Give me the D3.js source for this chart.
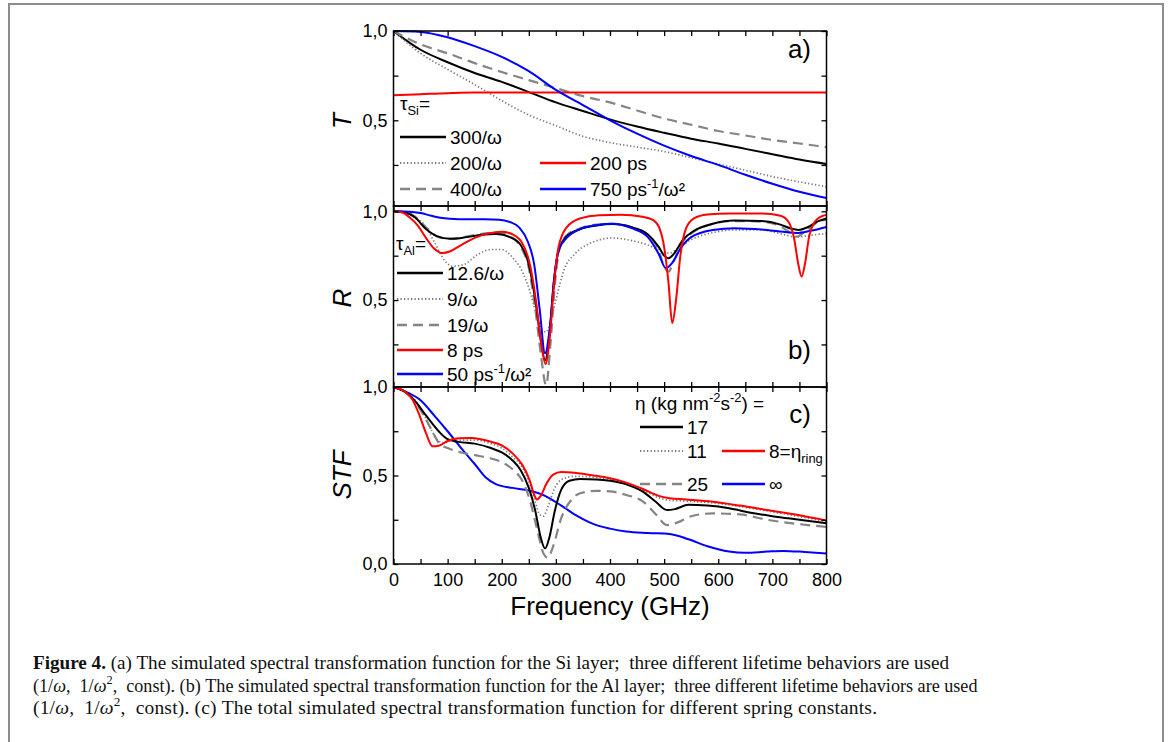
<!DOCTYPE html>
<html>
<head>
<meta charset="utf-8">
<script src="https://cdn.jsdelivr.net/npm/d3@7"></script>
<style>
  body { margin: 0; background: #fff; }
  svg { display: block; }
  text { white-space: pre; }
</style>
</head>
<body>
<svg id="fig" width="1171" height="742"></svg>
<script>
// ---------- data ----------
// shared frequency grid for panel (a), GHz
const tFreq = [0, 50, 100, 150, 200, 250, 300, 350, 400, 450, 500, 550, 600, 650, 700, 750, 800];

// (a) Si transmission T for different lifetime laws
const tSi300 = [1.0, 0.895, 0.825, 0.765, 0.715, 0.658, 0.6, 0.552, 0.505, 0.465, 0.43, 0.397, 0.37, 0.34, 0.31, 0.28, 0.255];
const tSi200 = [1.0, 0.875, 0.785, 0.70, 0.61, 0.53, 0.47, 0.41, 0.375, 0.35, 0.325, 0.29, 0.255, 0.22, 0.185, 0.155, 0.128];
const tSi400 = [1.0, 0.925, 0.875, 0.82, 0.77, 0.725, 0.68, 0.635, 0.60, 0.555, 0.51, 0.475, 0.44, 0.415, 0.39, 0.37, 0.35];
const tSiConst = [0.64, 0.646, 0.652, 0.655, 0.656, 0.656, 0.656, 0.656, 0.656, 0.656, 0.656, 0.656, 0.656, 0.656, 0.656, 0.656, 0.656];
const tSiSq = [1.0, 0.995, 0.965, 0.915, 0.855, 0.775, 0.67, 0.585, 0.50, 0.425, 0.358, 0.30, 0.25, 0.195, 0.145, 0.10, 0.065];

// (b) Al reflection R, [frequency GHz, R]
const rAl126 = [[0,1.0],[20,0.995],[40,0.965],[60,0.9],[80,0.86],[105,0.845],[130,0.852],[160,0.866],[190,0.872],[215,0.855],[235,0.81],[250,0.7],[262,0.5],[272,0.28],[280,0.16],[288,0.3],[296,0.6],[305,0.78],[320,0.86],[345,0.9],[375,0.92],[405,0.928],[440,0.91],[470,0.87],[490,0.8],[500,0.75],[508,0.735],[518,0.76],[535,0.84],[555,0.89],[590,0.93],[630,0.948],[680,0.945],[715,0.925],[735,0.902],[748,0.895],[765,0.91],[785,0.945],[800,0.96]];
const rAl9 = [[0,1.0],[20,0.99],[40,0.965],[55,0.93],[75,0.83],[95,0.72],[110,0.69],[130,0.7],[155,0.755],[180,0.785],[200,0.785],[220,0.74],[238,0.66],[252,0.55],[264,0.42],[275,0.33],[282,0.32],[290,0.38],[300,0.5],[315,0.67],[335,0.76],[360,0.815],[405,0.85],[440,0.835],[470,0.81],[495,0.775],[510,0.765],[525,0.79],[550,0.84],[590,0.88],[630,0.895],[680,0.895],[720,0.87],[745,0.855],[770,0.865],[800,0.875]];
const rAl19 = [[0,1.0],[20,0.997],[40,0.97],[60,0.91],[80,0.86],[100,0.845],[130,0.855],[160,0.872],[190,0.88],[215,0.86],[235,0.8],[250,0.68],[262,0.45],[272,0.2],[282,0.02],[290,0.25],[298,0.58],[306,0.78],[320,0.865],[345,0.905],[375,0.925],[405,0.93],[440,0.91],[470,0.865],[490,0.78],[500,0.69],[508,0.66],[518,0.72],[535,0.83],[555,0.885],[590,0.93],[630,0.945],[680,0.942],[715,0.915],[735,0.875],[745,0.857],[760,0.885],[785,0.94],[800,0.955]];
const rAlConst = [[0,1.0],[15,0.995],[30,0.965],[45,0.92],[60,0.85],[75,0.79],[90,0.765],[105,0.775],[125,0.81],[150,0.85],[175,0.875],[200,0.885],[220,0.87],[238,0.82],[252,0.7],[263,0.5],[273,0.25],[281,0.14],[289,0.3],[297,0.6],[305,0.8],[320,0.91],[345,0.96],[380,0.978],[420,0.98],[460,0.97],[480,0.95],[492,0.9],[500,0.8],[508,0.6],[515,0.37],[522,0.5],[530,0.75],[540,0.9],[555,0.96],[580,0.982],[620,0.988],[680,0.988],[715,0.975],[730,0.94],[740,0.85],[748,0.7],[754,0.632],[760,0.7],[768,0.86],[778,0.94],[790,0.97],[800,0.98]];
const rAlSq = [[0,1.0],[30,0.998],[50,0.99],[70,0.975],[90,0.962],[120,0.956],[160,0.955],[195,0.953],[215,0.94],[232,0.91],[248,0.83],[260,0.7],[270,0.45],[280,0.2],[289,0.35],[297,0.62],[305,0.78],[320,0.85],[345,0.9],[375,0.922],[405,0.93],[440,0.905],[470,0.855],[490,0.76],[503,0.68],[515,0.71],[530,0.79],[550,0.855],[590,0.895],[630,0.905],[690,0.895],[720,0.885],[745,0.878],[770,0.89],[800,0.912]];

// (c) total STF for spring constants eta, [frequency GHz, STF]
const stf17 = [[0,1.0],[20,0.975],[40,0.92],[55,0.86],[70,0.8],[85,0.745],[100,0.705],[120,0.69],[150,0.68],[180,0.655],[200,0.63],[220,0.585],[235,0.53],[250,0.43],[262,0.3],[272,0.15],[280,0.088],[288,0.15],[298,0.3],[310,0.42],[325,0.47],[345,0.48],[375,0.478],[400,0.47],[430,0.45],[460,0.41],[485,0.35],[505,0.305],[520,0.31],[545,0.335],[580,0.33],[620,0.315],[660,0.29],[700,0.27],[750,0.25],[800,0.23]];
const stf11 = [[0,1.0],[20,0.975],[40,0.925],[55,0.85],[68,0.77],[80,0.705],[92,0.685],[105,0.695],[125,0.7],[150,0.7],[180,0.68],[200,0.655],[220,0.605],[238,0.545],[252,0.45],[262,0.35],[270,0.28],[277,0.27],[286,0.33],[298,0.43],[312,0.48],[335,0.495],[370,0.49],[400,0.478],[430,0.455],[460,0.42],[490,0.375],[510,0.36],[540,0.355],[590,0.345],[640,0.325],[690,0.3],[750,0.268],[800,0.24]];
const stf8 = [[0,1.0],[20,0.975],[35,0.93],[48,0.84],[60,0.74],[72,0.665],[85,0.67],[100,0.695],[120,0.71],[145,0.712],[175,0.695],[200,0.67],[220,0.625],[238,0.56],[252,0.47],[260,0.39],[265,0.365],[272,0.385],[282,0.45],[295,0.505],[310,0.52],[340,0.513],[370,0.5],[400,0.484],[430,0.46],[460,0.425],[490,0.385],[510,0.372],[540,0.365],[590,0.352],[640,0.33],[690,0.305],[750,0.275],[800,0.245]];
const stf25 = [[0,1.0],[20,0.975],[40,0.915],[55,0.845],[70,0.76],[85,0.68],[100,0.655],[125,0.63],[150,0.615],[175,0.6],[200,0.575],[220,0.535],[238,0.47],[252,0.36],[265,0.2],[277,0.06],[285,0.035],[295,0.1],[310,0.26],[328,0.36],[345,0.4],[375,0.413],[400,0.41],[430,0.39],[460,0.355],[485,0.28],[505,0.22],[525,0.235],[550,0.27],[590,0.286],[640,0.28],[690,0.25],[750,0.225],[800,0.21]];
const stfInf = [[0,1.0],[25,0.97],[50,0.925],[75,0.84],[100,0.75],[125,0.655],[150,0.565],[170,0.49],[190,0.45],[220,0.43],[250,0.415],[280,0.385],[310,0.33],[340,0.27],[370,0.225],[400,0.2],[430,0.183],[470,0.175],[510,0.17],[545,0.14],[580,0.1],[620,0.07],[650,0.063],[690,0.07],[720,0.074],[760,0.068],[800,0.06]];

// ticks and labels
const xTicks = [0, 50, 100, 150, 200, 250, 300, 350, 400, 450, 500, 550, 600, 650, 700, 750, 800];
const xTickLabels = ["0", "", "100", "", "200", "", "300", "", "400", "", "500", "", "600", "", "700", "", "800"];
const yTicks = [0, 0.25, 0.5, 0.75, 1.0];
const yTickLabelsAB = ["", "", "0,5", "", "1,0"];
const yTickLabelsC = ["0,0", "", "0,5", "", "1,0"];

// legend texts
const legendTitleA = "τ_{Si}=";
const legendTitleB = "τ_{Al}=";
const legendTitleC = "η (kg nm^{-2}s^{-2}) =";
const captionLines = [
  "**Figure 4.** (a) The simulated spectral transformation function for the Si layer;  three different lifetime behaviors are used",
  "(1/*ω*,  1/*ω*^{2},  const). (b) The simulated spectral transformation function for the Al layer;  three different lifetime behaviors are used",
  "(1/*ω*,  1/*ω*^{2},  const). (c) The total simulated spectral transformation function for different spring constants."
];

// ---------- drawing ----------
const svg = d3.select("#fig");
const SANS = "'Liberation Sans', Arial, Helvetica, sans-serif";
const SERIF = "'Liberation Serif', 'Times New Roman', serif";

const styles = {
  solid:  { stroke: "#000000", width: 2.0, dash: null },
  dotted: { stroke: "#7a7a7a", width: 1.7, dash: "1.3 2.2" },
  dashed: { stroke: "#858585", width: 2.2, dash: "10 6" },
  red:    { stroke: "#ff0000", width: 2.0, dash: null },
  blue:   { stroke: "#0000ff", width: 2.0, dash: null }
};

// simple markup: ^{sup} _{sub} **bold** *italic*
function rich(sel, str, size) {
  const re = /\^\{([^}]*)\}|_\{([^}]*)\}|\*\*([^*]+)\*\*|\*([^*]+)\*|([^^_*]+)/g;
  let m, shift = 0;
  while ((m = re.exec(str))) {
    let t, target = 0, rel = 1, fw = null, fst = null;
    if (m[1] !== undefined) { t = m[1]; target = -0.4; rel = 0.68; }
    else if (m[2] !== undefined) { t = m[2]; target = 0.28; rel = 0.68; }
    else if (m[3] !== undefined) { t = m[3]; fw = "bold"; }
    else if (m[4] !== undefined) { t = m[4]; fst = "italic"; }
    else { t = m[5]; }
    const ts = sel.append("tspan").text(t).attr("font-size", size * rel);
    if (target !== shift) ts.attr("dy", (target - shift) * size);
    if (fw) ts.attr("font-weight", fw);
    if (fst) ts.attr("font-style", fst);
    shift = target;
  }
}

// outer frame
svg.append("rect")
  .attr("x", 9).attr("y", 4).attr("width", 1154).attr("height", 780)
  .attr("fill", "none").attr("stroke", "#8c8c8c").attr("stroke-width", 2);

const x = d3.scaleLinear().domain([0, 800]).range([393.5, 826.5]);

const panels = [
  {
    key: "a", y: d3.scaleLinear().domain([0.02, 1.0]).range([206, 31]),
    yLabels: yTickLabelsAB, title: "T", titleY: 121, tag: "a)", tagY: 58,
    series: [
      { data: tFreq.map((f, i) => [f, tSi300[i]]), style: "solid" },
      { data: tFreq.map((f, i) => [f, tSi200[i]]), style: "dotted" },
      { data: tFreq.map((f, i) => [f, tSi400[i]]), style: "dashed" },
      { data: tFreq.map((f, i) => [f, tSiConst[i]]), style: "red" },
      { data: tFreq.map((f, i) => [f, tSiSq[i]]), style: "blue" }
    ]
  },
  {
    key: "b", y: d3.scaleLinear().domain([0.01, 1.03]).range([387, 206]),
    yLabels: yTickLabelsAB, title: "R", titleY: 298, tag: "b)", tagY: 359,
    series: [
      { data: rAl9, style: "dotted" },
      { data: rAl19, style: "dashed" },
      { data: rAl126, style: "solid" },
      { data: rAlSq, style: "blue" },
      { data: rAlConst, style: "red" }
    ]
  },
  {
    key: "c", y: d3.scaleLinear().domain([0, 1.0]).range([564, 387]),
    yLabels: yTickLabelsC, title: "STF", titleY: 475, tag: "c)", tagY: 423,
    series: [
      { data: stfInf, style: "blue" },
      { data: stf25, style: "dashed" },
      { data: stf11, style: "dotted" },
      { data: stf17, style: "solid" },
      { data: stf8, style: "red" }
    ]
  }
];

panels.forEach((p, pi) => {
  const g = svg.append("g").attr("class", "panel-" + p.key);
  const [yb, yt] = p.y.range();
  const clipId = "clip-" + p.key;
  svg.append("defs").append("clipPath").attr("id", clipId)
    .append("rect").attr("x", x(0)).attr("y", yt - 1.5)
    .attr("width", x(800) - x(0)).attr("height", yb - yt + 3);

  const line = d3.line().x(d => x(d[0])).y(d => p.y(d[1])).curve(d3.curveMonotoneX);
  const cg = g.append("g").attr("clip-path", `url(#${clipId})`);
  p.series.forEach(s => {
    const st = styles[s.style];
    cg.append("path").datum(s.data).attr("d", line)
      .attr("fill", "none").attr("stroke", st.stroke)
      .attr("stroke-width", st.width).attr("stroke-dasharray", st.dash)
      .attr("stroke-linejoin", "round");
  });

  // axes (inward ticks on all four sides)
  const inDomain = yTicks.filter(v => v >= p.y.domain()[0] - 1e-9 && v <= p.y.domain()[1] + 1e-9);
  const fmtY = d => p.yLabels[yTicks.indexOf(d)];
  const left = g.append("g").attr("transform", `translate(${x(0)},0)`)
    .call(d3.axisLeft(p.y).tickValues(inDomain)
      .tickFormat(fmtY).tickSizeInner(-5).tickSizeOuter(0).tickPadding(6));
  const right = g.append("g").attr("transform", `translate(${x(800)},0)`)
    .call(d3.axisRight(p.y).tickValues(inDomain)
      .tickFormat("").tickSizeInner(-5).tickSizeOuter(0));
  const top = g.append("g").attr("transform", `translate(0,${yt})`)
    .call(d3.axisTop(x).tickValues(xTicks).tickFormat("").tickSizeInner(-5).tickSizeOuter(0));
  const bottom = g.append("g").attr("transform", `translate(0,${yb})`)
    .call(d3.axisBottom(x).tickValues(xTicks)
      .tickFormat(pi === 2 ? (d => xTickLabels[xTicks.indexOf(d)]) : "")
      .tickSizeInner(-5).tickSizeOuter(0).tickPadding(9));
  [left, right, top, bottom].forEach(a => {
    a.select(".domain").remove();
    a.selectAll(".tick line").attr("stroke", "#000").attr("stroke-width", 1.3);
    a.selectAll(".tick text").attr("font-family", SANS).attr("font-size", 18).attr("fill", "#000");
  });

  // frame
  g.append("rect").attr("x", x(0)).attr("y", yt).attr("width", x(800) - x(0)).attr("height", yb - yt)
    .attr("fill", "none").attr("stroke", "#000").attr("stroke-width", 1.5);

  // y title
  g.append("text").attr("transform", `translate(351,${p.titleY}) rotate(-90)`)
    .attr("text-anchor", "middle").attr("font-family", SANS).attr("font-size", 26)
    .attr("font-style", "italic").text(p.title);

  // panel tag
  g.append("text").attr("x", 811).attr("y", p.tagY).attr("text-anchor", "end")
    .attr("font-family", SANS).attr("font-size", 26).text(p.tag);
});

// x title
svg.append("text").attr("x", 610).attr("y", 615).attr("text-anchor", "middle")
  .attr("font-family", SANS).attr("font-size", 26).text("Frequency (GHz)");

// ---------- legends ----------
function legendItem(x0, y0, style, label, len = 46) {
  const st = styles[style];
  svg.append("line").attr("x1", x0).attr("x2", x0 + len).attr("y1", y0).attr("y2", y0)
    .attr("stroke", st.stroke).attr("stroke-width", st.width + 0.4).attr("stroke-dasharray", st.dash);
  const t = svg.append("text").attr("x", x0 + len + 4).attr("y", y0 + 7)
    .attr("font-family", SANS).attr("font-size", 19);
  rich(t, label, 19);
}
function legendTitle(x0, y0, label) {
  const t = svg.append("text").attr("x", x0).attr("y", y0).attr("font-family", SANS).attr("font-size", 19);
  rich(t, label, 19);
}

// (a)
legendTitle(400, 110, legendTitleA);
legendItem(400, 137, "solid", "300/ω");
legendItem(400, 163, "dotted", "200/ω");
legendItem(400, 189, "dashed", "400/ω");
legendItem(540, 163, "red", "200 ps");
legendItem(540, 189, "blue", "750 ps^{-1}/ω²");

// (b)
legendTitle(396, 250, legendTitleB);
legendItem(397, 273, "solid", "12.6/ω");
legendItem(397, 299, "dotted", "9/ω");
legendItem(397, 325, "dashed", "19/ω");
legendItem(397, 350, "red", "8 ps");
legendItem(397, 374, "blue", "50 ps^{-1}/ω²");

// (c)
legendTitle(635, 410, legendTitleC);
legendItem(640, 427, "solid", "17", 43);
legendItem(640, 451, "dotted", "11", 43);
legendItem(640, 484, "dashed", "25", 43);
legendItem(722, 451, "red", "8=η_{ring}", 43);
legendItem(722, 484, "blue", "∞", 43);

// ---------- caption ----------
// size each line so it spans its measured width
const capEnds = [950, 978, 877];
const capBase = [669, 691.5, 714];
captionLines.forEach((ln, i) => {
  const target = capEnds[i] - 33;
  const probe = svg.append("text").attr("x", 33).attr("y", capBase[i])
    .attr("font-family", SERIF).attr("font-size", 17).attr("fill", "#111");
  rich(probe, ln, 17);
  const w = probe.node().getComputedTextLength();
  probe.remove();
  const fs = Math.min(19.5, 17 * target / w);
  const t = svg.append("text").attr("x", 33).attr("y", capBase[i])
    .attr("font-family", SERIF).attr("font-size", fs).attr("fill", "#111");
  rich(t, ln, fs);
  const w2 = t.node().getComputedTextLength();
  if (Math.abs(w2 - target) > 3) t.attr("textLength", target).attr("lengthAdjust", "spacing");
});
</script>
</body>
</html>
